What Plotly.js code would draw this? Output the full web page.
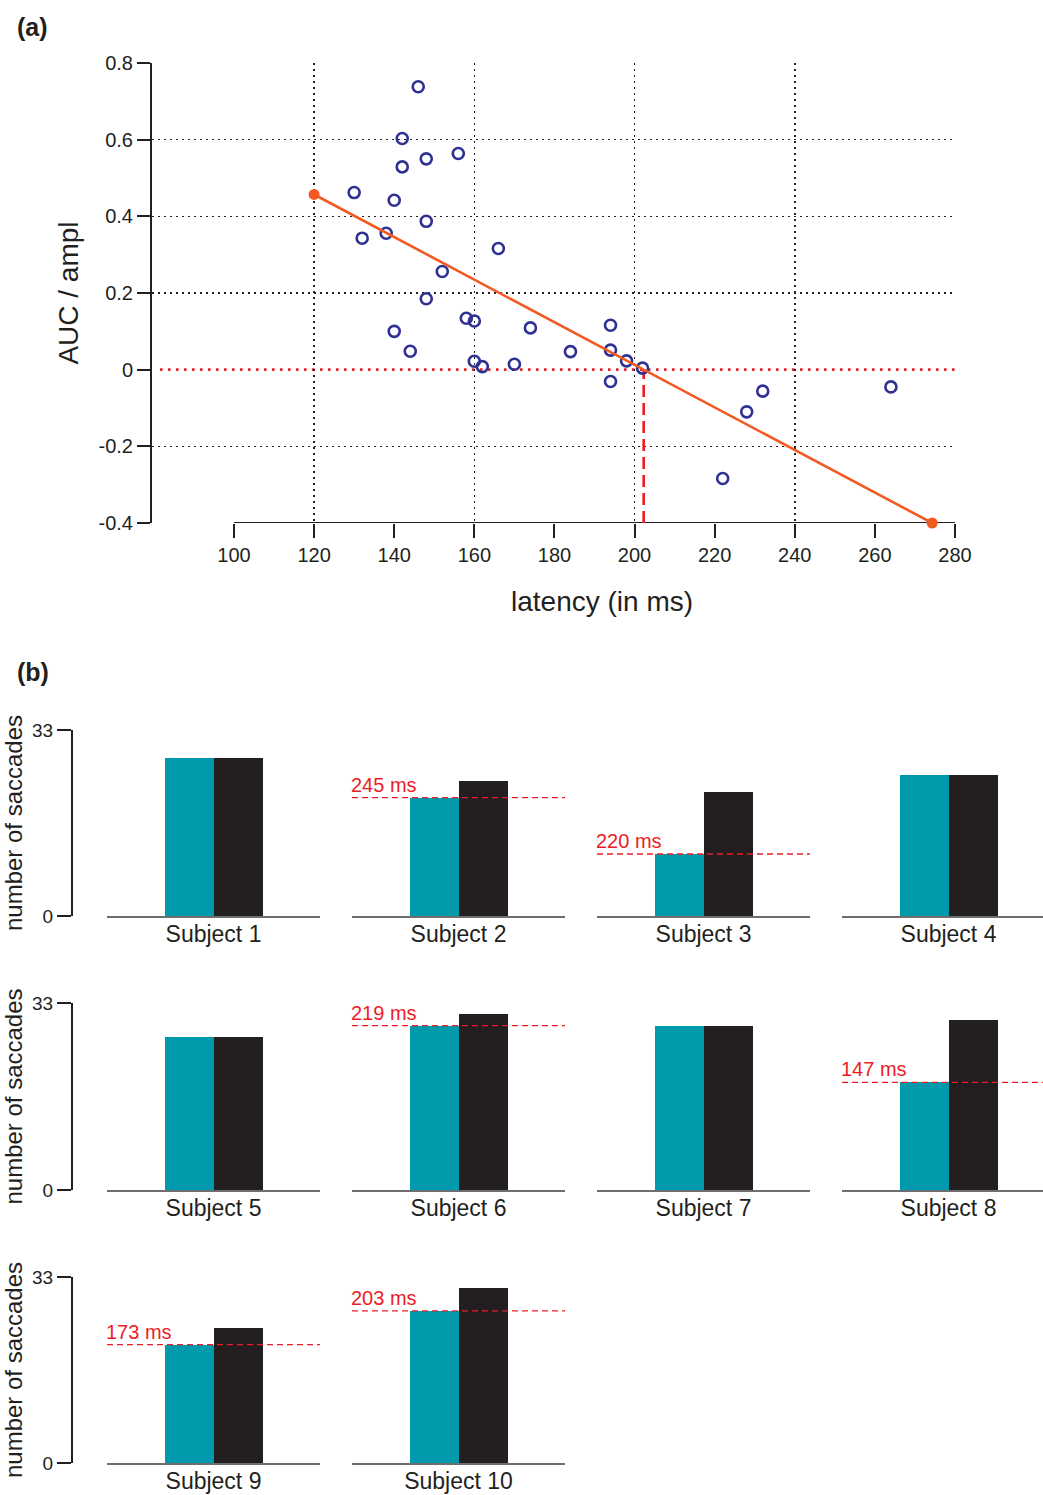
<!DOCTYPE html>
<html>
<head>
<meta charset="utf-8">
<script src="https://cdn.plot.ly/plotly-3.0.1.min.js"></script>
<style>html,body{margin:0;padding:0;background:#fff;}</style>
</head>
<body>
<div id="chart" style="width:1043px;height:1495px;"></div>
<script>
// ---------- Panel (a) data ----------
const latency = [146, 142, 148, 156, 142, 130, 140, 148, 132, 138, 166, 152, 148, 158, 160, 174, 194, 140, 144, 184, 194, 160, 162, 170, 198, 202, 194, 232, 228, 264, 222];
const aucAmpl = [0.738, 0.603, 0.550, 0.564, 0.529, 0.462, 0.442, 0.387, 0.343, 0.356, 0.316, 0.256, 0.185, 0.134, 0.127, 0.109, 0.116, 0.100, 0.048, 0.047, 0.051, 0.022, 0.008, 0.014, 0.023, 0.004, -0.031, -0.056, -0.110, -0.045, -0.284];
const fitLatency = [120, 274.3];
const fitAuc = [0.457, -0.4];
const xTicksA = [100, 120, 140, 160, 180, 200, 220, 240, 260, 280];
const xGridA = [120, 160, 200, 240, 280];
const yTicksA = [-0.4, -0.2, 0, 0.2, 0.4, 0.6, 0.8];
const yTickTextA = ['-0.4', '-0.2', '0', '0.2', '0.4', '0.6', '0.8'];
const yGridA = [-0.2, 0.2, 0.4, 0.6];

// ---------- Panel (b) data ----------
const subjects = ['Subject 1', 'Subject 2', 'Subject 3', 'Subject 4', 'Subject 5', 'Subject 6', 'Subject 7', 'Subject 8', 'Subject 9', 'Subject 10'];
const cyanCounts = [28, 21, 11, 25, 27, 29, 29, 19, 21, 27];
const blackCounts = [28, 24, 22, 25, 27, 31, 29, 30, 24, 31];
const thresholdLabels = [null, '245 ms', '220 ms', null, null, '219 ms', null, '147 ms', '173 ms', '203 ms'];
const countTicks = [0, 33];

// ---------- styling ----------
const W = 1043, H = 1495;
const FONT = 'Liberation Sans, Arial, Helvetica, sans-serif';
const INK = '#231F20';
const CYAN = '#009AAC';
const RED = '#ED1C24';
const ORANGE = '#F15A22';
const BLUE = '#2E3192';
const GRIDDOT = '1.5px,4.5px';
const px2x = p => p / W;
const px2y = p => (H - p) / H;

// zero crossing of the fitted line (derived from fit arrays)
const crossing = fitLatency[0] + (0 - fitAuc[0]) * (fitLatency[1] - fitLatency[0]) / (fitAuc[1] - fitAuc[0]);

const xRangeA = [79.53, 280];
const yRangeA = [-0.4, 0.8];

const traces = [];
const shapes = [];
const annotations = [];

// grid carrier (overlay axes)
traces.push({x: [], y: [], xaxis: 'x2', yaxis: 'y2', type: 'scatter', mode: 'markers', hoverinfo: 'skip', showlegend: false});

traces.push({
  x: [crossing, crossing], y: [yRangeA[0], 0], type: 'scatter', mode: 'lines',
  line: {color: RED, width: 2.6, dash: '12px,6px'}, hoverinfo: 'skip', showlegend: false
});
traces.push({
  x: latency, y: aucAmpl, type: 'scatter', mode: 'markers',
  marker: {symbol: 'circle-open', size: 11, color: BLUE, line: {width: 2.6, color: BLUE}},
  showlegend: false
});
traces.push({
  x: fitLatency, y: fitAuc, type: 'scatter', mode: 'lines+markers', cliponaxis: false,
  line: {color: ORANGE, width: 2.6}, marker: {size: 11, color: ORANGE},
  showlegend: false
});

shapes.push({type: 'line', xref: 'x', yref: 'y', x0: xTicksA[0], x1: xTicksA[xTicksA.length - 1], y0: yRangeA[0], y1: yRangeA[0],
  line: {color: INK, width: 2}, layer: 'below'});
shapes.push({type: 'line', xref: 'x domain', yref: 'y', x0: 0.01, x1: 1, y0: 0, y1: 0, layer: 'below',
  line: {color: RED, width: 2.6, dash: '2.5px,5.5px'}});

const layout = {
  width: W, height: H,
  margin: {l: 0, r: 0, t: 0, b: 0, pad: 0},
  paper_bgcolor: '#fff', plot_bgcolor: 'rgba(0,0,0,0)',
  font: {family: FONT, color: INK},
  showlegend: false,
  xaxis: {
    domain: [px2x(152), px2x(955)], range: xRangeA, anchor: 'y',
    tickmode: 'array', tickvals: xTicksA, ticks: 'outside', ticklen: 14, tickwidth: 2, tickcolor: INK,
    showline: false, showgrid: false, zeroline: false, tickfont: {size: 20, color: INK}, fixedrange: true
  },
  yaxis: {
    domain: [px2y(523), px2y(63)], range: yRangeA, anchor: 'x',
    tickmode: 'array', tickvals: yTicksA, ticktext: yTickTextA, ticks: 'outside', ticklen: 13, tickwidth: 2, tickcolor: INK,
    showline: true, linewidth: 2, linecolor: INK, showgrid: false, zeroline: false,
    tickfont: {size: 20, color: INK},
    title: {text: 'AUC / ampl', font: {size: 28, color: INK}, standoff: 12}, fixedrange: true
  },
  xaxis2: {
    overlaying: 'x', anchor: 'y2', range: xRangeA, tickmode: 'array', tickvals: xGridA,
    showgrid: true, griddash: GRIDDOT, gridcolor: '#231F20', gridwidth: 1.5,
    ticks: '', showticklabels: false, showline: false, zeroline: false, fixedrange: true
  },
  yaxis2: {
    overlaying: 'y', anchor: 'x2', range: yRangeA, tickmode: 'array', tickvals: yGridA,
    showgrid: true, griddash: GRIDDOT, gridcolor: '#231F20', gridwidth: 1.5,
    ticks: '', showticklabels: false, showline: false, zeroline: false, fixedrange: true
  },
  shapes: shapes,
  annotations: annotations,
  bargap: 0
};

annotations.push({text: '<b>(a)</b>', xref: 'paper', yref: 'paper', x: px2x(15), y: px2y(27), xanchor: 'left', yanchor: 'middle',
  showarrow: false, font: {size: 25, color: INK}});
annotations.push({text: '<b>(b)</b>', xref: 'paper', yref: 'paper', x: px2x(15), y: px2y(672), xanchor: 'left', yanchor: 'middle',
  showarrow: false, font: {size: 25, color: INK}});
annotations.push({text: 'latency (in ms)', xref: 'paper', yref: 'paper', x: px2x(602), y: px2y(601), xanchor: 'center', yanchor: 'middle',
  showarrow: false, font: {size: 28, color: INK}});

// ---------- Panel (b) ----------
const rowTop = [730, 1003, 1277];
const rowBottom = [916, 1190, 1463];
const BARPX = 49;
subjects.forEach((name, k) => {
  const r = Math.floor(k / 4), c = k % 4, n = k + 3;
  const left = 107 + 245 * c;
  const right = Math.min(left + 213, W);
  const r0 = -213 / BARPX / 2;
  const xr = [r0, r0 + (right - left) / BARPX];
  layout['xaxis' + n] = {
    domain: [px2x(left), px2x(right)], range: xr, anchor: 'y' + n,
    showline: true, linecolor: '#6D6E71', linewidth: 1.6,
    ticks: '', tickmode: 'array', tickvals: [0], ticktext: [name], ticklabelstandoff: -3,
    tickfont: {size: 23, color: INK}, showgrid: false, zeroline: false, fixedrange: true
  };
  const ya = {
    domain: [px2y(rowBottom[r]), px2y(rowTop[r])], range: [0, 33],
    showgrid: false, zeroline: false, fixedrange: true
  };
  if (c === 0) {
    Object.assign(ya, {
      anchor: 'free', position: px2x(72), visible: true,
      showline: true, linewidth: 2, linecolor: INK,
      ticks: 'outside', ticklen: 14, tickwidth: 2, tickcolor: INK,
      tickmode: 'array', tickvals: countTicks, tickfont: {size: 19, color: INK},
      title: {text: 'number of saccades', font: {size: 24, color: INK}, standoff: 8}
    });
  } else {
    Object.assign(ya, {anchor: 'x' + n, visible: false});
  }
  layout['yaxis' + n] = ya;

  traces.push({
    x: [-0.5, 0.5], y: [cyanCounts[k], blackCounts[k]], type: 'bar', width: [1, 1],
    xaxis: 'x' + n, yaxis: 'y' + n,
    marker: {color: [CYAN, INK], line: {width: 0}}, showlegend: false
  });

  if (thresholdLabels[k]) {
    shapes.push({type: 'line', xref: 'x' + n + ' domain', yref: 'y' + n, x0: 0, x1: 1,
      y0: cyanCounts[k], y1: cyanCounts[k], line: {color: RED, width: 1.3, dash: '6px,4px'}});
    annotations.push({text: thresholdLabels[k], xref: 'x' + n + ' domain', yref: 'y' + n,
      x: -0.015, y: cyanCounts[k], xanchor: 'left', yanchor: 'bottom', showarrow: false,
      font: {size: 20, color: RED}});
  }
});

Plotly.newPlot('chart', traces, layout, {staticPlot: true, displayModeBar: false});
</script>
</body>
</html>
